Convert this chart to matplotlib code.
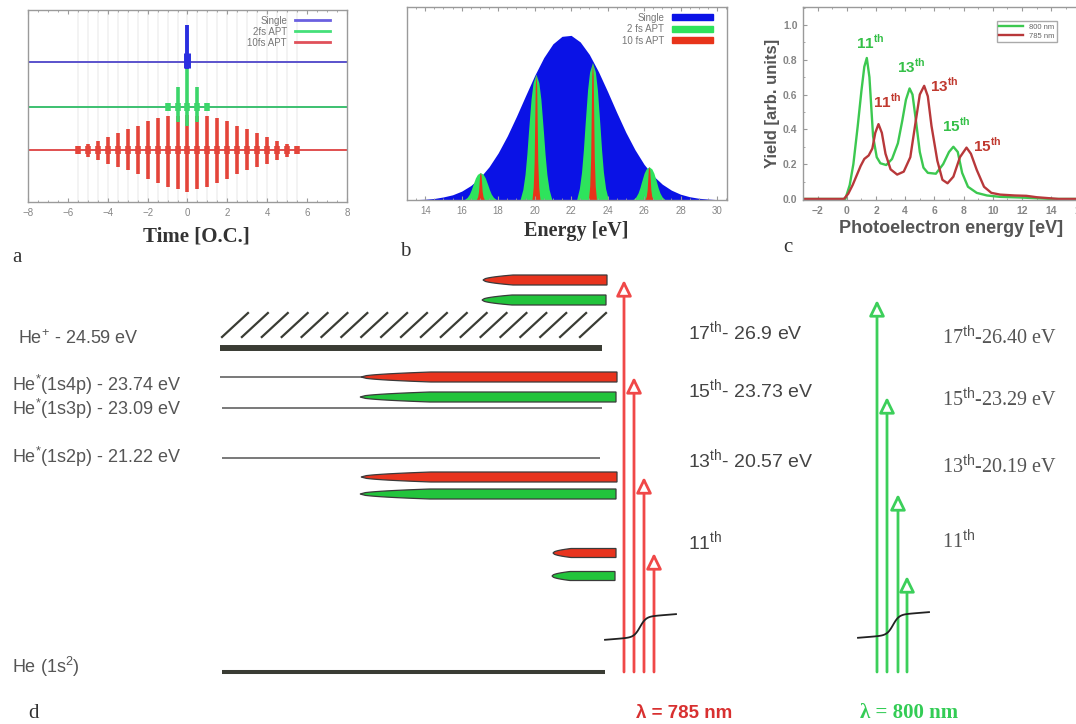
import numpy as np
import matplotlib
matplotlib.use("Agg")
import matplotlib.pyplot as plt
from matplotlib.patches import Patch
from matplotlib.ticker import MultipleLocator

plt.rcParams['font.family'] = ['Liberation Sans', 'DejaVu Sans']
plt.rcParams['mathtext.fontset'] = 'custom'
plt.rcParams['mathtext.rm'] = 'Liberation Sans'
plt.rcParams['mathtext.bf'] = 'Liberation Sans:bold'

W, H = 1076, 724

# ---------------- a: pulse trains vs time (optical cycles) ----------------
apt10_t = [-5.5, -5.0, -4.5, -4.0, -3.5, -3.0, -2.5, -2.0, -1.5, -1.0, -0.5, 0.0,
           0.5, 1.0, 1.5, 2.0, 2.5, 3.0, 3.5, 4.0, 4.5, 5.0, 5.5]
apt10_up = [0.017, 0.03, 0.05, 0.07, 0.09, 0.11, 0.125, 0.15, 0.165, 0.18, 0.18, 0.185,
            0.18, 0.18, 0.165, 0.15, 0.125, 0.11, 0.09, 0.07, 0.05, 0.03, 0.017]
apt10_down = [0.017, 0.035, 0.05, 0.07, 0.09, 0.105, 0.125, 0.15, 0.17, 0.19, 0.2, 0.22,
              0.2, 0.19, 0.17, 0.15, 0.125, 0.105, 0.09, 0.07, 0.05, 0.035, 0.017]
apt2_t = [-1.0, -0.5, 0.0, 0.5, 1.0]
apt2_up = [0.015, 0.105, 0.21, 0.105, 0.015]
apt2_down = [0.015, 0.08, 0.1, 0.08, 0.015]
single_t = [0.0]
single_up = [0.195]
single_down = [0.035]

# ---------------- b: spectra ----------------
spec_e = [13.0, 13.5, 14.0, 14.5, 15.0, 15.5, 16.0, 16.5, 17.0, 17.5, 18.0, 18.5,
          19.0, 19.5, 20.0, 20.5, 21.0, 21.5, 22.0, 22.5, 23.0, 23.5, 24.0, 24.5,
          25.0, 25.5, 26.0, 26.5, 27.0, 27.5, 28.0, 28.5, 29.0, 29.5, 30.0, 30.5]
spec_single = [0.001, 0.002, 0.004, 0.008, 0.016, 0.027, 0.046, 0.075, 0.116, 0.172,
               0.244, 0.332, 0.433, 0.540, 0.645, 0.738, 0.809, 0.848, 0.853, 0.819,
               0.754, 0.665, 0.562, 0.454, 0.351, 0.261, 0.185, 0.126, 0.082, 0.051,
               0.030, 0.017, 0.009, 0.005, 0.002, 0.001]
harm_center = [17.05, 20.1, 23.2, 26.3]
harm_height = [0.14, 0.65, 0.71, 0.17]
# line profiles (offset in eV, fraction of peak height)
apt2_de = [-0.87, -0.72, -0.6, -0.5, -0.41, -0.27, -0.16, 0.0,
           0.16, 0.27, 0.41, 0.5, 0.6, 0.72, 0.87]
apt2_frac = [0.0, 0.08, 0.2, 0.36, 0.54, 0.8, 0.93, 1.0,
             0.93, 0.8, 0.54, 0.36, 0.2, 0.08, 0.0]
apt10_de = [-0.22, -0.15, -0.1, -0.07, -0.04, 0.0, 0.04, 0.07, 0.1, 0.15, 0.22]
apt10_frac = [0.0, 0.1, 0.3, 0.6, 0.9, 1.0, 0.9, 0.6, 0.3, 0.1, 0.0]

# ---------------- c: photoelectron spectra ----------------
pe_800_e = [-3, -0.3, -0.1, 0.2, 0.45, 0.75, 1.0, 1.2, 1.37, 1.55, 1.8, 2.05, 2.3, 2.7,
            3.1, 3.5, 3.8, 4.05, 4.3, 4.5, 4.75, 5.0, 5.25, 5.55, 6.1, 6.6, 7.0, 7.3,
            7.6, 7.9, 8.3, 8.9, 9.6, 10.5, 12.0, 14.0, 17]
pe_800_y = [0, 0, 0.0, 0.08, 0.2, 0.42, 0.62, 0.76, 0.81, 0.70, 0.36, 0.24, 0.205, 0.195,
            0.23, 0.32, 0.45, 0.57, 0.635, 0.6, 0.44, 0.27, 0.18, 0.15, 0.145, 0.2, 0.27,
            0.30, 0.27, 0.15, 0.07, 0.035, 0.02, 0.012, 0.008, 0.0, 0]
pe_785_e = [-3, -0.2, 0.1, 0.4, 0.7, 0.95, 1.2, 1.5, 1.75, 1.95, 2.17, 2.4, 2.65, 3.0,
            3.45, 3.9, 4.35, 4.7, 5.0, 5.3, 5.55, 5.8, 6.2, 6.55, 6.9, 7.3, 7.75, 8.2,
            8.5, 8.9, 9.4, 9.9, 10.5, 11.5, 12.3, 13.0, 14.5, 17]
pe_785_y = [0, 0, 0.03, 0.08, 0.14, 0.19, 0.23, 0.25, 0.29, 0.38, 0.43, 0.38, 0.26, 0.17,
            0.14, 0.157, 0.24, 0.435, 0.6, 0.65, 0.59, 0.42, 0.22, 0.11, 0.09, 0.128, 0.24,
            0.295, 0.26, 0.167, 0.07, 0.035, 0.025, 0.02, 0.018, 0.01, 0.0, 0]
peak_labels = ['11', '13', '11', '13', '15', '15']
peak_label_e = [1.58, 4.43, 2.8, 6.7, 7.5, 9.6]
peak_label_y = [0.90, 0.76, 0.56, 0.655, 0.425, 0.31]
peak_label_src = ['800', '800', '785', '785', '800', '785']

# ---------------- d: He levels and harmonics ----------------
level_e = [24.59, 23.74, 23.09, 21.22, 0.0]
level_names = ['He$^{+}$ - 24.59 eV', 'He$^{*}$(1s4p) - 23.74 eV', 'He$^{*}$(1s3p) - 23.09 eV',
               'He$^{*}$(1s2p) - 21.22 eV', 'He (1s$^{2}$)']
harm_785_e = [26.9, 23.73, 20.57, 17.41]
harm_800_e = [26.40, 23.29, 20.19, 17.08]
harm_785_names = ['17$^{\\mathrm{th}}$- 26.9 eV', '15$^{\\mathrm{th}}$- 23.73 eV',
                  '13$^{\\mathrm{th}}$- 20.57 eV', '11$^{\\mathrm{th}}$']
harm_800_names = ['17$^{\\mathrm{th}}$-26.40 eV', '15$^{\\mathrm{th}}$-23.29 eV',
                  '13$^{\\mathrm{th}}$-20.19 eV', '11$^{\\mathrm{th}}$']

fig = plt.figure(figsize=(W / 100, H / 100), dpi=100)


def px_box(left, top, right, bottom):
    return [left / W, 1 - bottom / H, (right - left) / W, (bottom - top) / H]


def frame_style(ax, labelsize=7, bold=False):
    for s in ax.spines.values():
        s.set_color('#9a9a9a')
        s.set_linewidth(1.0)
    ax.tick_params(which='both', direction='in', top=True, colors='#9a9a9a',
                   labelcolor='#858585', labelsize=labelsize, pad=4)
    ax.tick_params(which='major', length=3)
    ax.tick_params(which='minor', length=1.5)
    if bold:
        for lab in ax.get_xticklabels() + ax.get_yticklabels():
            lab.set_fontweight('bold')


# ---- a ----
c_single, c_2fs, c_10fs = '#2a2fe0', '#3bd66a', '#e4443a'
ax_a = fig.add_axes(px_box(28, 10, 347, 202))
ax_a.set_xlim(-8, 8)
ax_a.set_ylim(0, 1)
base = {'single': 0.727, '2fs': 0.496, '10fs': 0.27}
ax_a.vlines(apt10_t, 0, 1, color='#f1f1f1', lw=1.2, zorder=0)
ax_a.axhline(base['single'], color='#5a52cc', lw=1.4)
ax_a.axhline(base['2fs'], color='#3cc070', lw=1.4)
ax_a.axhline(base['10fs'], color='#e05050', lw=1.4)
b10 = base['10fs']
ax_a.vlines(apt10_t, [b10 - d for d in apt10_down], [b10 + u for u in apt10_up],
            color=c_10fs, lw=2.6)
ax_a.vlines(apt10_t, b10 - 0.022, b10 + 0.022, color=c_10fs, lw=4)
b2 = base['2fs']
ax_a.vlines(apt2_t, [b2 - d for d in apt2_down], [b2 + u for u in apt2_up], color=c_2fs, lw=2.6)
ax_a.vlines(apt2_t, b2 - 0.02, b2 + 0.02, color=c_2fs, lw=4)
b1 = base['single']
ax_a.vlines(single_t, [b1 - d for d in single_down], [b1 + u for u in single_up],
            color=c_single, lw=2.8)
ax_a.vlines(single_t, b1 - 0.03, b1 + 0.05, color=c_single, lw=5)
ax_a.set_xticks(range(-8, 9, 2))
ax_a.xaxis.set_minor_locator(MultipleLocator(0.5))
ax_a.set_yticks([])
frame_style(ax_a)
ax_a.set_xlabel('Time [O.C.]', family=['Liberation Serif'], weight='bold', size=15,
                color='#333333')
ax_a.xaxis.set_label_coords(0.527, -0.125)
leg_a = [plt.Line2D([], [], color=c, lw=2) for c in ('#6a60e0', '#45e07a', '#e0505a')]
ax_a.legend(leg_a, ['Single', '2fs APT', '10fs APT'], loc='upper right', markerfirst=False,
            frameon=False, fontsize=7, handlelength=3.6, labelspacing=0.1,
            borderaxespad=0.0, borderpad=0.3, bbox_to_anchor=(0.955, 0.985),
            labelcolor='#777777')

# ---- b ----
cb_single, cb_2fs, cb_10fs = '#0a12e6', '#2ee35c', '#e8341a'
ax_b = fig.add_axes(px_box(407, 7, 727, 200))
ax_b.set_xlim(13.0, 30.55)
ax_b.set_ylim(0, 1)
ax_b.fill_between(spec_e, spec_single, color=cb_single, lw=0)
for c, h in zip(harm_center, harm_height):
    ax_b.fill([c + d for d in apt2_de], [h * f for f in apt2_frac], color=cb_2fs, lw=0)
for c, h in zip(harm_center, harm_height):
    ax_b.fill([c + d for d in apt10_de], [h * f for f in apt10_frac], color=cb_10fs, lw=0)
ax_b.set_xticks(range(14, 31, 2))
ax_b.xaxis.set_minor_locator(MultipleLocator(0.5))
ax_b.set_yticks([])
frame_style(ax_b)
ax_b.set_xlabel('Energy [eV]', family=['Liberation Serif'], weight='bold', size=14.5,
                color='#333333')
ax_b.xaxis.set_label_coords(0.53, -0.11)
leg_b = [Patch(color=c) for c in (cb_single, cb_2fs, cb_10fs)]
ax_b.legend(leg_b, ['Single', '2 fs APT', '10 fs APT'], loc='upper right', markerfirst=False,
            frameon=False, fontsize=7, handlelength=4.2, handleheight=0.55, labelspacing=0.15,
            borderaxespad=0.0, borderpad=0.3, bbox_to_anchor=(0.965, 0.985),
            labelcolor='#777777')

# ---- c ----
cc_800, cc_785 = '#3cc850', '#b8383a'
ax_c = fig.add_axes(px_box(803, 7, 1095, 200))
ax_c.set_xlim(-3, 17)
ax_c.set_ylim(-0.006, 1.103)
ax_c.plot(pe_800_e, pe_800_y, color=cc_800, lw=1.7, label='800 nm')
ax_c.plot(pe_785_e, pe_785_y, color=cc_785, lw=1.7, label='785 nm')
lab_col = {'800': '#35c048', '785': '#c0392f'}
for txt, e, y, src in zip(peak_labels, peak_label_e, peak_label_y, peak_label_src):
    ax_c.text(e, y, txt + '$^{\\mathbf{th}}$', color=lab_col[src], weight='bold', size=11,
              ha='center', va='center')
ax_c.set_xticks(range(-2, 17, 2))
ax_c.set_yticks([0.0, 0.2, 0.4, 0.6, 0.8, 1.0])
ax_c.yaxis.set_major_formatter(plt.FormatStrFormatter('%.1f'))
ax_c.xaxis.set_minor_locator(MultipleLocator(1))
ax_c.yaxis.set_minor_locator(MultipleLocator(0.1))
frame_style(ax_c, labelsize=7.5, bold=True)
ax_c.set_xlabel('Photoelectron energy [eV]', weight='bold', size=13, color='#555555')
ax_c.xaxis.set_label_coords(0.507, -0.105)
ax_c.set_ylabel('Yield [arb. units]', weight='bold', size=12, color='#555555', labelpad=2)
ax_c.legend(loc='upper left', bbox_to_anchor=(0.65, 0.945), fontsize=5.5, handlelength=3.2,
            borderpad=0.3, labelspacing=0.15, fancybox=False, edgecolor='#aaaaaa',
            framealpha=1, labelcolor='#666666')

# ---- d ----
# the diagram is not to scale: energy -> drawing height through a piecewise map
anchor_e = [-2.0, 0.0, 17.08, 17.41, 20.19, 20.57, 21.22, 23.09, 23.29, 23.73, 24.59,
            26.40, 26.9, 30.0]
anchor_h = [H - p for p in (724, 672, 576, 553, 494, 477, 458, 408, 397, 377, 348, 300,
                            280, 262)]


def e_to_h(e):
    return np.interp(e, anchor_e, anchor_h)


def h_to_e(h):
    return np.interp(h, anchor_h, anchor_e)


ax_d = fig.add_axes(px_box(0, 262, W, H))
ax_d.set_xlim(0, W)
ax_d.set_yscale('function', functions=(e_to_h, h_to_e))
ax_d.set_ylim(-2, 30)
ax_d.axis('off')

dark = '#3a3c34'
level_style = [(220, 602, 4.3, dark), (220, 615, 1.1, '#555555'), (222, 602, 1.1, '#555555'),
               (222, 600, 1.1, '#555555'), (222, 605, 2.9, dark)]
label_dy = [6.5, -6.0, -1.0, 0.5, 3.5]
label_x = [18, 12, 12, 12, 12]
for e, name, (x0, x1, lw, col), dy, lx in zip(level_e, level_names, level_style, label_dy, label_x):
    ax_d.plot([x0, x1], [e, e], color=col, lw=lw, solid_capstyle='butt')
    ax_d.annotate(name, xy=(lx, e), xytext=(0, dy), textcoords='offset points',
                  va='center', ha='left', size=13, color='#555555')


def needle(e, x0, x1, taper, color, thick=10.0):
    c = e_to_h(e)
    s = np.linspace(0, 1, 14)
    xs_tip = x0 + taper * s
    half = thick / 2 * np.sqrt(s)
    xs = np.concatenate([xs_tip, [x1, x1], xs_tip[::-1]])
    hs = np.concatenate([c + half, [c + thick / 2, c - thick / 2], (c - half)[::-1]])
    ax_d.fill(xs, h_to_e(hs), fc=color, ec='#3a3a3a', lw=0.9, zorder=3)


bar_red, bar_green = '#e8341e', '#22c43c'
bar_geom = [(483, 607, 30, 10), (361, 617, 70, 10), (361, 617, 70, 10), (553, 616, 18, 9)]
for e, (x0, x1, tp, th) in zip(harm_785_e, bar_geom):
    needle(e, x0, x1, tp, bar_red, th)
for e, (x0, x1, tp, th) in zip(harm_800_e, bar_geom):
    needle(e, x0 - 1, x1 - 1, tp, bar_green, th)

arrow_red, arrow_green = '#f04848', '#3ccf5a'
for e, x in zip(harm_785_e, [624, 634, 644, 654]):
    ax_d.annotate('', xy=(x, e), xytext=(x, 0.0),
                  arrowprops=dict(arrowstyle='-|>,head_length=0.47,head_width=0.23',
                                  mutation_scale=20, lw=2.0, ec=arrow_red, fc='white',
                                  shrinkA=0, shrinkB=0))
for e, x in zip(harm_800_e, [877, 887, 898, 907]):
    ax_d.annotate('', xy=(x, e), xytext=(x, 0.0),
                  arrowprops=dict(arrowstyle='-|>,head_length=0.47,head_width=0.23',
                                  mutation_scale=20, lw=2.0, ec=arrow_green, fc='white',
                                  shrinkA=0, shrinkB=0))

for name, yp in zip(harm_785_names, [332, 390, 460, 542]):
    fig.text(688 / W, 1 - yp / H, name, size=14, color='#444444', va='center')
for name, yp in zip(harm_800_names, [338, 400, 467, 542]):
    fig.text(942 / W, 1 - yp / H, name, size=14.5, color='#555555', va='center',
             family=['Liberation Serif'])

# decorations in pixel space: continuum hatching and the break marks on the arrows
ax_o = fig.add_axes([0, 0, 1, 1])
ax_o.set_xlim(0, W)
ax_o.set_ylim(H, 0)
ax_o.axis('off')
ax_o.set_zorder(5)
for x in np.linspace(222, 580, 19):
    ax_o.plot([x, x + 26], [337, 313], color=dark, lw=1.6)
sx = np.linspace(-35, 36, 60)
sy = -10 * np.tanh(sx / 6.0) - 0.08 * sx
ax_o.plot(640 + sx, 627 + sy, color='#222222', lw=1.3)
ax_o.plot(893 + sx, 625 + sy, color='#222222', lw=1.3)

fig.text(636 / W, 1 - 713 / H, 'λ = 785 nm', color='#d83030', weight='bold', size=13.5,
         va='center')
fig.text(860 / W, 1 - 713 / H, 'λ = 800 nm', color='#33cc55', weight='bold', size=15,
         va='center', family=['Liberation Serif'])

for txt, xp, yp in [('a', 12, 258), ('b', 400, 252), ('c', 783, 248), ('d', 28, 713)]:
    fig.text(xp / W, 1 - yp / H, txt, size=15, family=['Liberation Serif'], color='#333333',
             va='center')

fig.savefig('out.png', dpi=100)
